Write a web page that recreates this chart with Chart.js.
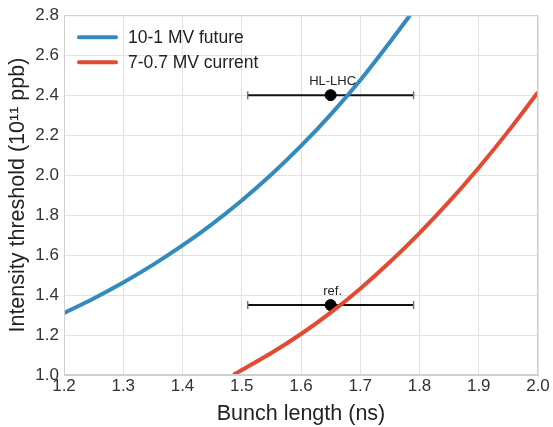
<!DOCTYPE html>
<html>
<head>
<meta charset="utf-8">
<script src="https://cdn.jsdelivr.net/npm/chart.js@4/dist/chart.umd.min.js"></script>
<style>
  html, body { margin: 0; padding: 0; background: #fff; }
  #wrap { width: 553px; height: 427px; }
</style>
</head>
<body>
<div id="wrap"><canvas id="c" width="553" height="427"></canvas></div>
<script>
// curves
const futureX = [1.2, 1.25, 1.3, 1.35, 1.4, 1.45, 1.5, 1.55, 1.6, 1.65, 1.7, 1.75, 1.784];
const futureY = [1.31, 1.383, 1.463, 1.551, 1.648, 1.755, 1.873, 2.003, 2.146, 2.303, 2.475, 2.665, 2.8];
const currentX = [1.486, 1.5, 1.55, 1.6, 1.65, 1.7, 1.75, 1.8, 1.85, 1.9, 1.95, 2.0];
const currentY = [1.0, 1.025, 1.11, 1.205, 1.312, 1.432, 1.565, 1.71, 1.867, 2.037, 2.22, 2.415];

// operating points with bunch length spread
const markX = [1.65, 1.65];
const markY = [2.4, 1.35];
const markErr = [0.14, 0.14];
const markLabels = ["HL-LHC", "ref."];

const xTicks = [1.2, 1.3, 1.4, 1.5, 1.6, 1.7, 1.8, 1.9, 2.0];
const yTicks = [1.0, 1.2, 1.4, 1.6, 1.8, 2.0, 2.2, 2.4, 2.6, 2.8];

const FONT = "'Liberation Sans', Arial, sans-serif";
const BLUE = "#348ABD";
const RED = "#E24A33";

const toXY = (xs, ys) => xs.map((x, i) => ({ x, y: ys[i] }));

const errorSets = markX.map((x, i) => ({
  label: "err" + i,
  data: [{ x: x - markErr[i], y: markY[i] }, { x: x + markErr[i], y: markY[i] }],
  borderColor: "#111",
  borderWidth: 2,
  pointStyle: "line",
  rotation: 90,
  pointRadius: 4,
  pointBorderColor: "#777",
  pointBorderWidth: 1.5,
  showLine: true,
  order: 5,
}));

const overlay = {
  id: "overlay",
  afterDraw(chart) {
    const { ctx, chartArea: a, scales } = chart;
    ctx.save();
    // frame on top/right
    ctx.strokeStyle = "#cfcfcf";
    ctx.lineWidth = 1;
    ctx.strokeRect(a.left + 0.5, a.top + 0.5, a.right - a.left - 1, a.bottom - a.top - 1);

    // point labels
    ctx.fillStyle = "#222";
    ctx.font = "13px " + FONT;
    ctx.textAlign = "center";
    ctx.textBaseline = "middle";
    markLabels.forEach((t, i) => {
      ctx.fillText(t, scales.x.getPixelForValue(markX[i]) + 2, scales.y.getPixelForValue(markY[i]) - 14);
    });

    // legend in upper left
    const items = chart.data.datasets.filter(d => d.inLegend);
    ctx.font = "17.5px " + FONT;
    ctx.textAlign = "left";
    items.forEach((d, i) => {
      const y = a.top + 22 + i * 25;
      ctx.strokeStyle = d.borderColor;
      ctx.lineWidth = 4;
      ctx.lineCap = "round";
      ctx.beginPath();
      ctx.moveTo(a.left + 15, y);
      ctx.lineTo(a.left + 52, y);
      ctx.stroke();
      ctx.fillStyle = "#222";
      ctx.fillText(d.label, a.left + 64, y + 1);
    });
    ctx.restore();
  },
};

new Chart(document.getElementById("c"), {
  type: "line",
  data: {
    datasets: [
      {
        label: "10-1 MV future",
        inLegend: true,
        data: toXY(futureX, futureY),
        borderColor: BLUE,
        borderWidth: 4,
        pointRadius: 0,
        cubicInterpolationMode: "monotone",
        order: 1,
      },
      {
        label: "7-0.7 MV current",
        inLegend: true,
        data: toXY(currentX, currentY),
        borderColor: RED,
        borderWidth: 4,
        pointRadius: 0,
        cubicInterpolationMode: "monotone",
        order: 1,
      },
      ...errorSets,
      {
        label: "points",
        type: "scatter",
        data: toXY(markX, markY),
        backgroundColor: "#000",
        borderColor: "#000",
        pointRadius: 5.5,
        order: 3,
      },
    ],
  },
  options: {
    responsive: false,
    animation: false,
    layout: { padding: { top: 15, right: 15, left: 0, bottom: 0 } },
    plugins: { legend: { display: false }, tooltip: { enabled: false } },
    scales: {
      x: {
        type: "linear",
        min: 1.2,
        max: 2.0,
        afterBuildTicks: s => { s.ticks = xTicks.map(v => ({ value: v })); },
        afterFit: s => { s.height = 52; },
        ticks: {
          callback: v => v.toFixed(1),
          color: "#333",
          font: { family: FONT, size: 17 },
          padding: 1,
          maxRotation: 0,
        },
        grid: { color: "#e2e2e2", drawTicks: false },
        border: { color: "#cfcfcf" },
        title: {
          display: true,
          text: "Bunch length (ns)",
          color: "#222",
          font: { family: FONT, size: 21.5 },
          padding: { top: 2, bottom: 0 },
        },
      },
      y: {
        type: "linear",
        min: 1.0,
        max: 2.8,
        afterBuildTicks: s => { s.ticks = yTicks.map(v => ({ value: v })); },
        afterFit: s => { s.width = 64; },
        ticks: {
          callback: v => v.toFixed(1),
          color: "#333",
          font: { family: FONT, size: 17 },
          padding: 5,
        },
        grid: { color: "#e2e2e2", drawTicks: false },
        border: { color: "#cfcfcf" },
        title: {
          display: true,
          text: "Intensity threshold (10¹¹ ppb)",
          color: "#222",
          font: { family: FONT, size: 21.5 },
          padding: { top: 5, bottom: 0 },
        },
      },
    },
  },
  plugins: [overlay],
});
</script>
</body>
</html>
